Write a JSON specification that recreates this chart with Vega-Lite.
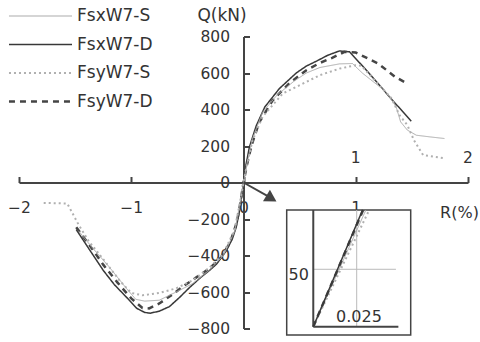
{
  "$schema": "https://vega.github.io/schema/vega-lite/v6.json",
  "width": 449,
  "height": 292,
  "autosize": {"type": "none"},
  "padding": {"left": 19, "top": 36.5, "right": 12, "bottom": 13.5},
  "background": "white",
  "config": {
    "view": {"stroke": null},
    "font": "DejaVu Sans",
    "axis": {"labelOverlap": false},
    "axisX": {
      "tickCount": 4, "format": "d",
      "labelExpr": "datum.value == 2 ? '' : datum.label",
      "offset": -146, "tickSize": -6, "tickWidth": 2, "tickColor": "#444",
      "domainColor": "#444", "domainWidth": 2, "grid": false, "labelOverlap": false,
      "labelFontSize": 15.5, "labelColor": "#333", "labelPadding": 24, "labelFlush": false,
      "titleFontSize": 16, "titleFontWeight": "normal", "titleColor": "#333",
      "titleX": 440, "titleY": 30, "titleAlign": "center", "titleBaseline": "middle"
    },
    "axisY": {
      "format": "d",
      "offset": -224.5, "tickSize": -6, "tickWidth": 2, "tickColor": "#444",
      "domainColor": "#444", "domainWidth": 2, "grid": false, "labelOverlap": false,
      "labelFontSize": 15.5, "labelColor": "#333", "labelPadding": 20, "labelFlush": false,
      "titleFontSize": 17, "titleFontWeight": "normal", "titleColor": "#333", "titleAngle": 0,
      "titleX": -22, "titleY": -21.5, "titleAlign": "center", "titleBaseline": "middle"
    },
    "legend": {
      "orient": "none",
      "legendX": 13,
      "legendY": -29,
      "title": null,
      "symbolType": "M-5,0H5",
      "symbolSize": 159,
      "labelFontSize": 17,
      "labelFont": "DejaVu Sans",
      "labelColor": "#333",
      "labelOffset": 28,
      "padding": 0,
      "rowPadding": 10.5
    }
  },
  "datasets": {
    "curves": [
      {"s": "FsxW7-D", "x": -1.49, "y": -258}, {"s": "FsxW7-D", "x": -1.37, "y": -370}, {"s": "FsxW7-D", "x": -1.25, "y": -481},
      {"s": "FsxW7-D", "x": -1.15, "y": -560}, {"s": "FsxW7-D", "x": -1.045, "y": -627}, {"s": "FsxW7-D", "x": -0.95, "y": -690},
      {"s": "FsxW7-D", "x": -0.88, "y": -712}, {"s": "FsxW7-D", "x": -0.83, "y": -716}, {"s": "FsxW7-D", "x": -0.75, "y": -705},
      {"s": "FsxW7-D", "x": -0.66, "y": -680}, {"s": "FsxW7-D", "x": -0.57, "y": -630}, {"s": "FsxW7-D", "x": -0.48, "y": -575},
      {"s": "FsxW7-D", "x": -0.39, "y": -525}, {"s": "FsxW7-D", "x": -0.3, "y": -480}, {"s": "FsxW7-D", "x": -0.24, "y": -447},
      {"s": "FsxW7-D", "x": -0.154, "y": -375}, {"s": "FsxW7-D", "x": -0.1, "y": -310}, {"s": "FsxW7-D", "x": -0.065, "y": -245},
      {"s": "FsxW7-D", "x": -0.03, "y": -140}, {"s": "FsxW7-D", "x": 0, "y": 0}, {"s": "FsxW7-D", "x": 0.02, "y": 90},
      {"s": "FsxW7-D", "x": 0.053, "y": 195}, {"s": "FsxW7-D", "x": 0.113, "y": 310}, {"s": "FsxW7-D", "x": 0.19, "y": 414},
      {"s": "FsxW7-D", "x": 0.32, "y": 515}, {"s": "FsxW7-D", "x": 0.47, "y": 600}, {"s": "FsxW7-D", "x": 0.56, "y": 638},
      {"s": "FsxW7-D", "x": 0.65, "y": 665}, {"s": "FsxW7-D", "x": 0.75, "y": 697}, {"s": "FsxW7-D", "x": 0.855, "y": 721},
      {"s": "FsxW7-D", "x": 0.944, "y": 716}, {"s": "FsxW7-D", "x": 1.1, "y": 612}, {"s": "FsxW7-D", "x": 1.3, "y": 470},
      {"s": "FsxW7-D", "x": 1.494, "y": 336},

      {"s": "FsyW7-D", "x": -1.49, "y": -245}, {"s": "FsyW7-D", "x": -1.37, "y": -345}, {"s": "FsyW7-D", "x": -1.25, "y": -450},
      {"s": "FsyW7-D", "x": -1.12, "y": -550}, {"s": "FsyW7-D", "x": -1.0, "y": -635}, {"s": "FsyW7-D", "x": -0.9, "y": -688},
      {"s": "FsyW7-D", "x": -0.84, "y": -690}, {"s": "FsyW7-D", "x": -0.75, "y": -663}, {"s": "FsyW7-D", "x": -0.63, "y": -612},
      {"s": "FsyW7-D", "x": -0.54, "y": -570}, {"s": "FsyW7-D", "x": -0.42, "y": -520}, {"s": "FsyW7-D", "x": -0.3, "y": -470},
      {"s": "FsyW7-D", "x": -0.2, "y": -410}, {"s": "FsyW7-D", "x": -0.12, "y": -330}, {"s": "FsyW7-D", "x": -0.06, "y": -220},
      {"s": "FsyW7-D", "x": -0.03, "y": -120}, {"s": "FsyW7-D", "x": 0, "y": 0}, {"s": "FsyW7-D", "x": 0.03, "y": 95},
      {"s": "FsyW7-D", "x": 0.07, "y": 200}, {"s": "FsyW7-D", "x": 0.14, "y": 330}, {"s": "FsyW7-D", "x": 0.26, "y": 450},
      {"s": "FsyW7-D", "x": 0.41, "y": 545}, {"s": "FsyW7-D", "x": 0.56, "y": 615}, {"s": "FsyW7-D", "x": 0.68, "y": 655},
      {"s": "FsyW7-D", "x": 0.79, "y": 683}, {"s": "FsyW7-D", "x": 0.9, "y": 716}, {"s": "FsyW7-D", "x": 1.0, "y": 712},
      {"s": "FsyW7-D", "x": 1.11, "y": 679}, {"s": "FsyW7-D", "x": 1.2, "y": 652}, {"s": "FsyW7-D", "x": 1.35, "y": 579},
      {"s": "FsyW7-D", "x": 1.45, "y": 545},

      {"s": "FsxW7-S", "x": -1.47, "y": -265}, {"s": "FsxW7-S", "x": -1.35, "y": -355}, {"s": "FsxW7-S", "x": -1.2, "y": -460},
      {"s": "FsxW7-S", "x": -1.05, "y": -575}, {"s": "FsxW7-S", "x": -0.96, "y": -640}, {"s": "FsxW7-S", "x": -0.88, "y": -650},
      {"s": "FsxW7-S", "x": -0.75, "y": -645}, {"s": "FsxW7-S", "x": -0.6, "y": -600}, {"s": "FsxW7-S", "x": -0.45, "y": -553},
      {"s": "FsxW7-S", "x": -0.3, "y": -478}, {"s": "FsxW7-S", "x": -0.18, "y": -400}, {"s": "FsxW7-S", "x": -0.08, "y": -270},
      {"s": "FsxW7-S", "x": -0.03, "y": -110}, {"s": "FsxW7-S", "x": 0, "y": 0}, {"s": "FsxW7-S", "x": 0.03, "y": 100},
      {"s": "FsxW7-S", "x": 0.08, "y": 240}, {"s": "FsxW7-S", "x": 0.17, "y": 385}, {"s": "FsxW7-S", "x": 0.3, "y": 480},
      {"s": "FsxW7-S", "x": 0.45, "y": 555}, {"s": "FsxW7-S", "x": 0.56, "y": 600}, {"s": "FsxW7-S", "x": 0.68, "y": 630},
      {"s": "FsxW7-S", "x": 0.855, "y": 650}, {"s": "FsxW7-S", "x": 0.97, "y": 652}, {"s": "FsxW7-S", "x": 1.06, "y": 599},
      {"s": "FsxW7-S", "x": 1.27, "y": 497}, {"s": "FsxW7-S", "x": 1.36, "y": 414}, {"s": "FsxW7-S", "x": 1.4, "y": 332},
      {"s": "FsxW7-S", "x": 1.46, "y": 287}, {"s": "FsxW7-S", "x": 1.54, "y": 259}, {"s": "FsxW7-S", "x": 1.66, "y": 250},
      {"s": "FsxW7-S", "x": 1.79, "y": 241},

      {"s": "FsyW7-S", "x": -1.78, "y": -112}, {"s": "FsyW7-S", "x": -1.57, "y": -115}, {"s": "FsyW7-S", "x": -1.47, "y": -230},
      {"s": "FsyW7-S", "x": -1.38, "y": -320}, {"s": "FsyW7-S", "x": -1.25, "y": -420}, {"s": "FsyW7-S", "x": -1.1, "y": -540},
      {"s": "FsyW7-S", "x": -1.0, "y": -605}, {"s": "FsyW7-S", "x": -0.9, "y": -618}, {"s": "FsyW7-S", "x": -0.75, "y": -605},
      {"s": "FsyW7-S", "x": -0.6, "y": -580}, {"s": "FsyW7-S", "x": -0.45, "y": -535}, {"s": "FsyW7-S", "x": -0.3, "y": -465},
      {"s": "FsyW7-S", "x": -0.18, "y": -390}, {"s": "FsyW7-S", "x": -0.08, "y": -260}, {"s": "FsyW7-S", "x": -0.03, "y": -105},
      {"s": "FsyW7-S", "x": 0, "y": 0}, {"s": "FsyW7-S", "x": 0.03, "y": 95}, {"s": "FsyW7-S", "x": 0.08, "y": 230},
      {"s": "FsyW7-S", "x": 0.17, "y": 360}, {"s": "FsyW7-S", "x": 0.35, "y": 488}, {"s": "FsyW7-S", "x": 0.56, "y": 551},
      {"s": "FsyW7-S", "x": 0.68, "y": 588}, {"s": "FsyW7-S", "x": 0.855, "y": 624}, {"s": "FsyW7-S", "x": 1.0, "y": 643},
      {"s": "FsyW7-S", "x": 1.05, "y": 640}, {"s": "FsyW7-S", "x": 1.21, "y": 533}, {"s": "FsyW7-S", "x": 1.32, "y": 460},
      {"s": "FsyW7-S", "x": 1.39, "y": 369}, {"s": "FsyW7-S", "x": 1.46, "y": 314}, {"s": "FsyW7-S", "x": 1.52, "y": 230},
      {"s": "FsyW7-S", "x": 1.6, "y": 150}, {"s": "FsyW7-S", "x": 1.8, "y": 132}
    ],
    "inset": [
      {"s": "FsxW7-S", "x": 0, "y": 0}, {"s": "FsxW7-S", "x": 0.0303, "y": 101.6},
      {"s": "FsyW7-S", "x": 0, "y": 0}, {"s": "FsyW7-S", "x": 0.0322, "y": 101.6},
      {"s": "FsyW7-D", "x": 0, "y": 0}, {"s": "FsyW7-D", "x": 0.0287, "y": 101.6},
      {"s": "FsxW7-D", "x": 0, "y": 0}, {"s": "FsxW7-D", "x": 0.0284, "y": 101.6}
    ],
    "toplabels": [{"x": 1, "t": "1"}, {"x": 2, "t": "2"}]
  },
  "layer": [
    {
      "layer": [
        {
          "data": {"name": "curves"},
          "mark": {"type": "line", "clip": false},
          "encoding": {
            "x": {
              "field": "x", "type": "quantitative", "title": "R(%)",
              "scale": {"domain": [-2, 2], "nice": false, "zero": false}
            },
            "y": {
              "field": "y", "type": "quantitative", "title": "Q(kN)",
              "scale": {"domain": [-800, 800], "nice": false, "zero": false}
            },
            "color": {
              "field": "s", "type": "nominal",
              "scale": {"domain": ["FsxW7-S", "FsxW7-D", "FsyW7-S", "FsyW7-D"], "range": ["#aaaaaa", "#383838", "#b0b0b0", "#454545"]}
            },
            "strokeDash": {
              "field": "s", "type": "nominal",
              "scale": {"domain": ["FsxW7-S", "FsxW7-D", "FsyW7-S", "FsyW7-D"], "range": [[1, 0], [1, 0], [2, 3], [6, 5]]}
            },
            "strokeWidth": {
              "field": "s", "type": "nominal",
              "scale": {"domain": ["FsxW7-S", "FsxW7-D", "FsyW7-S", "FsyW7-D"], "range": [1, 2.5, 1.3, 2.5]}
            }
          }
        },
        {
          "data": {"name": "toplabels"},
          "mark": {"type": "text", "fontSize": 15.5, "color": "#333", "dy": -25, "align": "center", "baseline": "middle"},
          "encoding": {
            "x": {"field": "x", "type": "quantitative", "title": "R(%)", "scale": {"domain": [-2, 2], "nice": false, "zero": false}},
            "y": {"datum": 0, "type": "quantitative", "title": "Q(kN)", "scale": {"domain": [-800, 800], "nice": false, "zero": false}},
            "text": {"field": "t"}
          }
        },
        {
          "data": {"values": [{}]},
          "mark": {"type": "rule", "color": "#444", "strokeWidth": 2},
          "encoding": {
            "x": {"datum": 0, "type": "quantitative", "title": "R(%)", "scale": {"domain": [-2, 2], "nice": false, "zero": false}}, "x2": {"datum": 0.22},
            "y": {"datum": 0, "type": "quantitative", "title": "Q(kN)", "scale": {"domain": [-800, 800], "nice": false, "zero": false}}, "y2": {"datum": -76}
          }
        },
        {
          "data": {"values": [{}]},
          "mark": {"type": "point", "shape": "triangle-right", "filled": true, "color": "#444", "opacity": 1, "size": 180, "angle": 31},
          "encoding": {
            "x": {"datum": 0.249, "type": "quantitative", "title": "R(%)", "scale": {"domain": [-2, 2], "nice": false, "zero": false}},
            "y": {"datum": -88, "type": "quantitative", "title": "Q(kN)", "scale": {"domain": [-800, 800], "nice": false, "zero": false}}
          }
        }
      ]
    },
    {
      "layer": [
        {
          "data": {"values": [{}]},
          "mark": {"type": "rect", "fill": "white", "stroke": "#444", "strokeWidth": 1.5},
          "encoding": {
            "x": {"datum": -0.0153, "type": "quantitative", "scale": {"domain": [-0.0153, 0.0561], "range": [267.7, 391.7], "nice": false, "zero": false}, "axis": null},
            "x2": {"datum": 0.0561},
            "y": {"datum": -7.2, "type": "quantitative", "scale": {"domain": [-7.2, 101.6], "range": [298.5, 173.5], "nice": false, "zero": false}, "axis": null},
            "y2": {"datum": 101.6}
          }
        },
        {
          "data": {"values": [{}]},
          "mark": {"type": "rule", "color": "#bbbbbb", "strokeWidth": 1},
          "encoding": {
            "x": {"datum": 0.025, "type": "quantitative", "scale": {"domain": [-0.0153, 0.0561], "range": [267.7, 391.7], "nice": false, "zero": false}, "axis": null},
            "y": {"datum": 0, "type": "quantitative", "scale": {"domain": [-7.2, 101.6], "range": [298.5, 173.5], "nice": false, "zero": false}, "axis": null},
            "y2": {"datum": 101.6}
          }
        },
        {
          "data": {"values": [{}]},
          "mark": {"type": "rule", "color": "#bbbbbb", "strokeWidth": 1},
          "encoding": {
            "x": {"datum": 0, "type": "quantitative", "scale": {"domain": [-0.0153, 0.0561], "range": [267.7, 391.7], "nice": false, "zero": false}, "axis": null},
            "x2": {"datum": 0.0476},
            "y": {"datum": 50, "type": "quantitative", "scale": {"domain": [-7.2, 101.6], "range": [298.5, 173.5], "nice": false, "zero": false}, "axis": null}
          }
        },
        {
          "data": {"values": [{}]},
          "mark": {"type": "rule", "color": "#444", "strokeWidth": 2},
          "encoding": {
            "x": {"datum": 0, "type": "quantitative", "scale": {"domain": [-0.0153, 0.0561], "range": [267.7, 391.7], "nice": false, "zero": false}, "axis": null},
            "y": {"datum": 0, "type": "quantitative", "scale": {"domain": [-7.2, 101.6], "range": [298.5, 173.5], "nice": false, "zero": false}, "axis": null},
            "y2": {"datum": 101.6}
          }
        },
        {
          "data": {"values": [{}]},
          "mark": {"type": "rule", "color": "#444", "strokeWidth": 2},
          "encoding": {
            "x": {"datum": 0, "type": "quantitative", "scale": {"domain": [-0.0153, 0.0561], "range": [267.7, 391.7], "nice": false, "zero": false}, "axis": null},
            "x2": {"datum": 0.049},
            "y": {"datum": 0, "type": "quantitative", "scale": {"domain": [-7.2, 101.6], "range": [298.5, 173.5], "nice": false, "zero": false}, "axis": null}
          }
        },
        {
          "data": {"name": "inset"},
          "mark": {"type": "line", "clip": false},
          "encoding": {
            "x": {"field": "x", "type": "quantitative", "scale": {"domain": [-0.0153, 0.0561], "range": [267.7, 391.7], "nice": false, "zero": false}, "axis": null},
            "y": {"field": "y", "type": "quantitative", "scale": {"domain": [-7.2, 101.6], "range": [298.5, 173.5], "nice": false, "zero": false}, "axis": null},
            "color": {"field": "s", "type": "nominal"},
            "strokeDash": {"field": "s", "type": "nominal"},
            "strokeWidth": {"field": "s", "type": "nominal"}
          }
        },
        {
          "data": {"values": [{"t": "50", "x": -0.0025, "y": 50}]},
          "mark": {"type": "text", "fontSize": 16, "color": "#333", "align": "right", "baseline": "middle", "dy": 6},
          "encoding": {
            "x": {"field": "x", "type": "quantitative", "scale": {"domain": [-0.0153, 0.0561], "range": [267.7, 391.7], "nice": false, "zero": false}, "axis": null},
            "y": {"field": "y", "type": "quantitative", "scale": {"domain": [-7.2, 101.6], "range": [298.5, 173.5], "nice": false, "zero": false}, "axis": null},
            "text": {"field": "t"}
          }
        },
        {
          "data": {"values": [{"t": "0.025", "x": 0.0263, "y": 8.4}]},
          "mark": {"type": "text", "fontSize": 16, "color": "#333", "align": "center", "baseline": "middle"},
          "encoding": {
            "x": {"field": "x", "type": "quantitative", "scale": {"domain": [-0.0153, 0.0561], "range": [267.7, 391.7], "nice": false, "zero": false}, "axis": null},
            "y": {"field": "y", "type": "quantitative", "scale": {"domain": [-7.2, 101.6], "range": [298.5, 173.5], "nice": false, "zero": false}, "axis": null},
            "text": {"field": "t"}
          }
        }
      ]
    }
  ],
  "resolve": {"scale": {"x": "independent", "y": "independent"}}
}
